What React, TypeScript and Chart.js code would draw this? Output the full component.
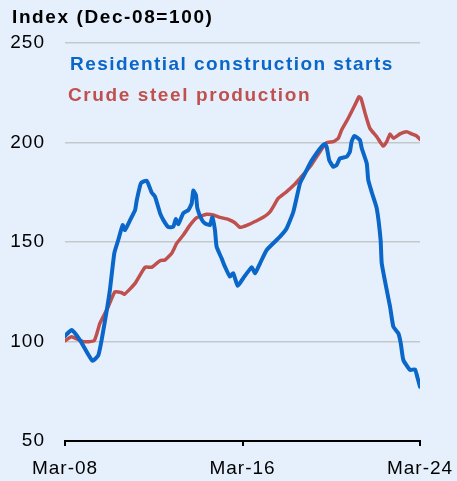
import React, { useEffect, useRef } from "react";
import { Chart, registerables } from "chart.js";

Chart.register(...registerables);

// Months counted from Mar-08 (0) to Mar-24 (192)
const starts_months = [0, 3.6, 8.1, 14.8, 18, 19.8, 22.6, 24.3, 26.7, 28.8, 31.2, 32.4, 35.2, 37.9, 38.8, 41.1, 44.2, 46.9, 48.7, 51.4, 53.2, 55.9, 58.6, 59.9, 61.3, 64, 66.7, 68.5, 69.4, 70.8, 71.6, 73.9, 75.7, 78.4, 79.7, 81.1, 82, 84.7, 86.5, 89.2, 91, 93.4, 96.4, 101, 102.8, 105.5, 109.1, 116.3, 119.9, 123.5, 127.1, 128.9, 132.5, 136.1, 138.8, 140.6, 141.5, 142.9, 145.1, 146.9, 148.7, 152.4, 154.1, 155, 156.5, 159.5, 160.5, 163.2, 164, 165.9, 168.6, 170.7, 171.3, 174, 175.8, 177.6, 180.3, 181.6, 183, 186.6, 189.3, 190.5, 192];
const starts_values = [102.8, 105.8, 100.7, 90.3, 93, 100.7, 115.8, 126, 144.5, 151, 158.5, 156, 161, 166, 171, 179.6, 180.8, 174.8, 172.8, 164.5, 161, 157.5, 157.7, 161.5, 159, 164.5, 166, 169.4, 175.8, 173.6, 166.9, 161.4, 159.4, 158.5, 162.4, 156, 147.6, 141.8, 137.6, 132.6, 134.3, 128, 131.8, 137.3, 134.3, 139.3, 146, 152.7, 156.9, 165.2, 179.5, 182.8, 189.5, 194.6, 197.9, 199.2, 197.9, 191.2, 187.8, 188.7, 192, 192.9, 195.4, 200.4, 203.3, 201.3, 197.1, 189.5, 181.2, 175, 166.9, 151, 139.3, 125.9, 117.5, 107.4, 104.1, 99.1, 90.7, 85.7, 86, 82.3, 77.3];

const steel_months = [0, 3.6, 9.9, 15.8, 18.9, 23.4, 27, 30.7, 32.1, 37.9, 43.3, 46.9, 51.4, 54.1, 57.7, 60.4, 64, 67.6, 71.2, 76.6, 80.2, 83.8, 88.3, 91.9, 94.6, 98.3, 103.7, 107.2, 110.9, 115.4, 119.9, 124.4, 127.1, 132.5, 137.9, 141.5, 145.1, 147.8, 149.6, 153.2, 156.8, 159, 160.1, 162.3, 164.9, 168.6, 172.1, 174, 175.8, 177.6, 181.2, 184.8, 187.5, 190.2, 192];
const steel_values = [100.4, 102.4, 99.9, 100.4, 109.2, 117.5, 125, 124.5, 123.7, 129.2, 137.3, 137.3, 140.6, 141, 144.3, 149.3, 153.5, 158.5, 162.2, 163.9, 163.6, 162.4, 161.4, 159.7, 157.4, 158.4, 160.7, 162.4, 165.2, 172, 175.3, 179.1, 182, 187.8, 195.4, 199.9, 200.4, 202.1, 206.3, 212.2, 218.8, 223, 222.2, 214.7, 207.1, 202.9, 198.2, 200.4, 204.3, 202.1, 204.3, 205.4, 204.3, 203.3, 201.6];

const x_tick_months = [0, 96, 192];
const x_tick_labels = ["Mar-08", "Mar-16", "Mar-24"];
const y_ticks = [50, 100, 150, 200, 250];

const series_names = ["Residential construction starts", "Crude steel production"];
const title_text = "Index (Dec-08=100)";

const BLUE = "#0a66c8";
const RED = "#c0504d";
const BG = "#e5f0fc";
const FONT = "'Liberation Sans', Arial, sans-serif";

export default function App() {
  const ref = useRef<HTMLCanvasElement>(null);

  useEffect(() => {
    document.body.style.margin = "0";
    document.body.style.background = BG;
    const canvas = ref.current!;

    const spacing = {
      id: "spacing",
      beforeLayout(chart: any) {
        chart.ctx.letterSpacing = "1px";
      },
      beforeDraw(chart: any) {
        const ctx = chart.ctx;
        ctx.save();
        ctx.fillStyle = BG;
        ctx.fillRect(0, 0, chart.width, chart.height);
        ctx.restore();
        ctx.letterSpacing = "1px";
      },
      afterDraw(chart: any) {
        const ctx = chart.ctx;
        const a = chart.chartArea;
        ctx.save();
        ctx.textBaseline = "alphabetic";
        ctx.textAlign = "left";
        ctx.letterSpacing = "1.6px";
        ctx.font = `bold 19px ${FONT}`;
        ctx.fillStyle = "#000";
        ctx.fillText(title_text, 12, 23);
        ctx.letterSpacing = "1.45px";
        ctx.fillStyle = BLUE;
        ctx.fillText(series_names[0], a.left + 5, 70);
        ctx.letterSpacing = "1.6px";
        ctx.fillStyle = RED;
        ctx.fillText(series_names[1], a.left + 3, 101);
        ctx.restore();
      },
    };

    const chart = new Chart(canvas, {
      type: "line",
      data: {
        datasets: [
          {
            label: series_names[0],
            data: starts_months.map((m, i) => ({ x: m, y: starts_values[i] })),
            borderColor: BLUE,
            borderWidth: 4,
            pointRadius: 0,
            tension: 0.15,
            borderJoinStyle: "round",
            borderCapStyle: "round",
          },
          {
            label: series_names[1],
            data: steel_months.map((m, i) => ({ x: m, y: steel_values[i] })),
            borderColor: RED,
            borderWidth: 3.5,
            pointRadius: 0,
            tension: 0.15,
            borderJoinStyle: "round",
            borderCapStyle: "round",
          },
        ],
      },
      options: {
        animation: false,
        responsive: false,
        devicePixelRatio: 1,
        layout: { padding: { left: 0, right: 37, top: 43, bottom: 0 } },
        plugins: { legend: { display: false }, tooltip: { enabled: false } },
        scales: {
          x: {
            type: "linear",
            min: 0,
            max: 192,
            afterBuildTicks(scale: any) {
              scale.ticks = x_tick_months.map((v) => ({ value: v }));
            },
            afterFit(scale: any) {
              scale.height = 40;
              scale.paddingLeft = 0;
              scale.paddingRight = 0;
            },
            ticks: {
              autoSkip: false,
              maxRotation: 0,
              padding: 11,
              color: "#000",
              font: { family: FONT, size: 19 },
              callback: (v: any) => {
                const i = x_tick_months.indexOf(Number(v));
                return i >= 0 ? x_tick_labels[i] : "";
              },
            },
            grid: {
              drawOnChartArea: false,
              drawTicks: true,
              tickLength: 5,
              color: "#000",
              lineWidth: 2,
            },
            border: { display: true, color: "#000", width: 2 },
          },
          y: {
            min: 50,
            max: 250,
            afterBuildTicks(scale: any) {
              scale.ticks = y_ticks.map((v) => ({ value: v }));
            },
            afterFit(scale: any) {
              scale.width = 65;
              scale.paddingTop = 0;
              scale.paddingBottom = 0;
            },
            ticks: {
              padding: 20,
              color: "#000",
              font: { family: FONT, size: 19 },
            },
            grid: {
              drawTicks: false,
              color: "#c4c8cc",
              lineWidth: 1.5,
            },
            border: { display: false },
          },
        },
      },
      plugins: [spacing],
    });
    return () => chart.destroy();
  }, []);

  return (
    <div style={{ width: 457, height: 481, background: BG }}>
      <canvas ref={ref} width={457} height={481} style={{ width: 457, height: 481, display: "block" }} />
    </div>
  );
}
